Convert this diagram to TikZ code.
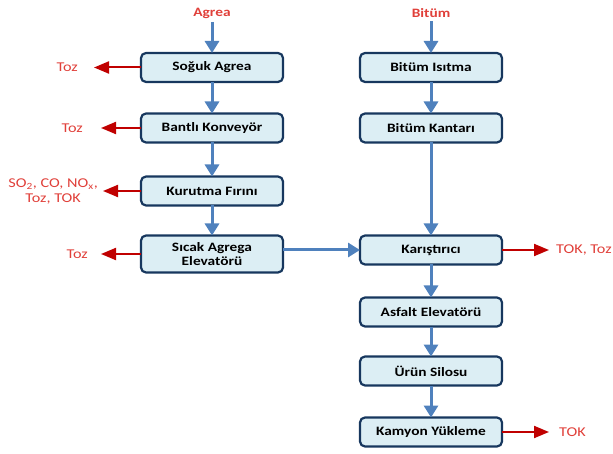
\documentclass[tikz,border=0pt]{standalone}
\usepackage{fontspec}
\setmainfont{Carlito}[FakeStretch=1.2]
\usetikzlibrary{positioning, arrows.meta}

\definecolor{boxfill}{HTML}{DCEEF4}
\definecolor{boxline}{HTML}{17375E}
\definecolor{flowblue}{HTML}{4F81BD}
\definecolor{emisred}{HTML}{C00000}
\definecolor{labelred}{HTML}{E0403A}

\tikzset{
    unitbox/.style={draw=boxline, fill=boxfill, line width=2.2pt, outer sep=0pt, rounded corners=5pt, minimum width=142pt, minimum height=29pt, align=center, font=\fontsize{12.8}{14.5}\selectfont\bfseries},
    flow/.style={-{Triangle[width=14pt,length=12pt]}, draw=flowblue, line width=3pt},
    emis/.style={-{Triangle[width=12pt,length=15pt]}, draw=emisred, line width=2pt},
    emislabel/.style={text=labelred, inner sep=0pt, align=center, font=\fontsize{13.5}{15}\selectfont},
    feed/.style={text=labelred, font=\fontsize{12.8}{14}\selectfont\bfseries}
}

\begin{document}
\begin{tikzpicture}[x=1pt, y=-1pt, node distance=31pt]
    \useasboundingbox (0,0) rectangle (613,454);

    % agrega hatti
    \node[unitbox] (soguk) at (212,67.5) {Soğuk Agrea};
    \node[unitbox, below=31.5pt of soguk] (bantli) {Bantlı Konveyör};
    \node[unitbox, below=34pt of bantli] (kurutma) {Kurutma Fırını};
    \node[unitbox, below=30pt of kurutma, minimum height=37pt] (sicak) {Sıcak Agrega\\[-1pt]Elevatörü};

    % bitum hatti
    \node[unitbox] (isitma) at (431,67.5) {Bitüm Isıtma};
    \node[unitbox, below=31.5pt of isitma] (kantar) {Bitüm Kantarı};
    \node[unitbox, anchor=north] (karistirici) at (sicak.north -| kantar) {Karıştırıcı};
    \node[unitbox, below=33pt of karistirici] (asfalt) {Asfalt Elevatörü};
    \node[unitbox, below=30pt of asfalt] (silo) {Ürün Silosu};
    \node[unitbox, below=32pt of silo] (kamyon) {Kamyon Yükleme};

    % girdiler
    \node[feed] (agrea) at (212,13) {Agrea};
    \node[feed] (bitum) at (431,13) {Bitüm};

    % emisyonlar
    \node[emislabel, left=63pt of soguk] (toz1) {Toz};
    \node[emislabel, left=58pt of bantli] (toz2) {Toz};
    \node[emislabel, left=43pt of kurutma] (gaz) {SO\textsubscript{2}, CO, NO\textsubscript{x},\\Toz, TOK};
    \node[emislabel, left=53pt of sicak] (toz3) {Toz};
    \node[emislabel, right=54pt of karistirici] (tok1) {TOK, Toz};
    \node[emislabel, right=57pt of kamyon] (tok2) {TOK};

    \draw[flow] (agrea) -- (soguk);
    \draw[flow] (soguk) -- (bantli);
    \draw[flow] (bantli) -- (kurutma);
    \draw[flow] (kurutma) -- (sicak);
    \draw[flow] (bitum) -- (isitma);
    \draw[flow] (isitma) -- (kantar);
    \draw[flow] (kantar) -- (karistirici);
    \draw[flow] (sicak.east |- karistirici.west) -- (karistirici.west);
    \draw[flow] (karistirici) -- (asfalt);
    \draw[flow] (asfalt) -- (silo);
    \draw[flow] (silo) -- (kamyon);

    \draw[emis, shorten >=16pt] (soguk) -- (toz1);
    \draw[emis, shorten >=18pt] (bantli) -- (toz2);
    \draw[emis, shorten >=5pt] (kurutma) -- (gaz.east |- kurutma);
    \draw[emis, shorten >=13pt] (sicak) -- (toz3);
    \draw[emis, shorten >=7pt] (karistirici) -- (tok1);
    \draw[emis, shorten >=10pt] (kamyon) -- (tok2);
\end{tikzpicture}
\end{document}
